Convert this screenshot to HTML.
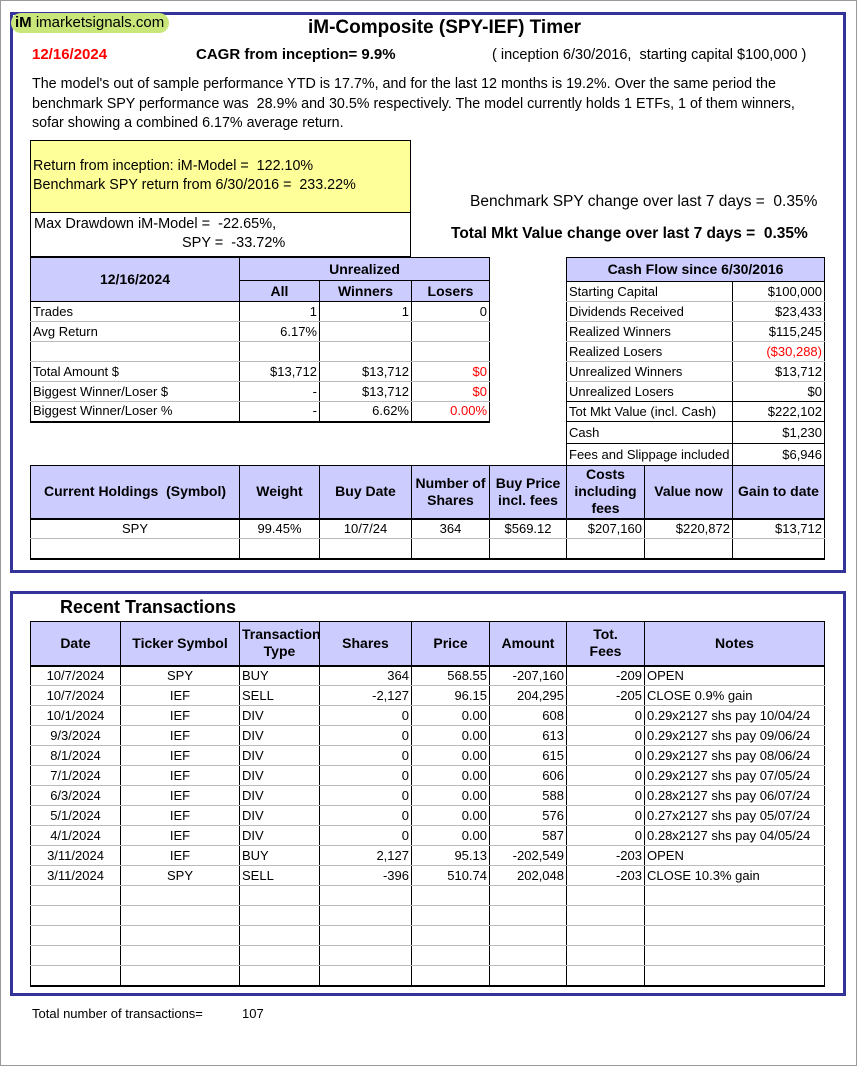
<!DOCTYPE html>
<html><head><meta charset="utf-8"><style>
*{margin:0;padding:0;box-sizing:border-box}
body{width:857px;height:1066px;background:#fff;position:relative;overflow:hidden;font-family:"Liberation Sans",Arial,sans-serif;color:#000}
.a{position:absolute;white-space:nowrap}
.n{font-family:"Liberation Sans Narrow","Arial Narrow","Liberation Sans",sans-serif}
.frame{position:absolute;border:3px solid #333399}
table{position:absolute;border-collapse:collapse;table-layout:fixed;font-family:"Liberation Sans Narrow","Arial Narrow","Liberation Sans",sans-serif;font-size:13px}
td{border:1px solid #000;border-top-color:#bbb;border-bottom-color:#bbb;padding:0 2px;overflow:hidden;white-space:nowrap;height:20px;line-height:18px}
td.h{background:#ccccff;font-weight:bold;text-align:center;font-size:14px;line-height:17px;white-space:normal;border-color:#000}
.r{text-align:right}.c{text-align:center}.red{color:#f00}
tr.bb td{border-bottom:2px solid #000}
tr.hb td{border-bottom:2px solid #000}
</style></head><body>
<div style="position:absolute;left:0;top:0;width:857px;height:1066px;border:1px solid #999"></div>
<div class="frame" style="left:10px;top:12px;width:836px;height:561px"></div>
<div class="frame" style="left:10px;top:591px;width:836px;height:405px"></div>
<div class="a" style="left:11px;top:13px;width:158px;height:20px;background:#c8e67a;border-radius:10px;font-size:15px;line-height:20px;padding-left:4px"><b>iM</b> imarketsignals.com</div>
<div class="a" style="left:308px;top:17px;font-size:19px;font-weight:bold">iM-Composite (SPY-IEF) Timer</div>
<div class="a" style="left:32px;top:46px;font-size:15px;font-weight:bold;color:#f00">12/16/2024</div>
<div class="a" style="left:196px;top:46px;font-size:15px;font-weight:bold">CAGR from inception= 9.9%</div>
<div class="a" style="left:492px;top:47px;font-size:14.5px">( inception 6/30/2016,&nbsp; starting capital $100,000 )</div>
<div class="a" style="left:32px;top:75px;font-size:14.3px;line-height:19.5px">The model's out of sample performance YTD is 17.7%, and for the last 12 months is 19.2%. Over the same period the<br>benchmark SPY performance was&nbsp; 28.9% and 30.5% respectively. The model currently holds 1 ETFs, 1 of them winners,<br>sofar showing a combined 6.17% average return.</div>
<div class="a" style="left:30px;top:140px;width:381px;height:73px;background:#ffff99;border:1px solid #000;font-size:14.3px;line-height:19px;padding:16px 0 0 2px">Return from inception: iM-Model =&nbsp; 122.10%<br>Benchmark SPY return from 6/30/2016 =&nbsp; 233.22%</div>
<div class="a" style="left:30px;top:212px;width:381px;height:45px;border:1px solid #000;font-size:14.5px;line-height:19px;padding:2px 0 0 3px">Max Drawdown iM-Model =&nbsp; -22.65%,<br><span style="padding-left:148px">SPY =&nbsp; -33.72%</span></div>
<div class="a" style="left:470px;top:193px;font-size:15.5px">Benchmark SPY change over last 7 days =&nbsp; 0.35%</div>
<div class="a" style="left:451px;top:225px;font-size:15.5px;font-weight:bold">Total Mkt Value change over last 7 days =&nbsp; 0.35%</div>

<table style="left:30px;top:257px;width:459px">
<col style="width:209px"><col style="width:80px"><col style="width:92px"><col style="width:78px">
<tr><td class="h" rowspan="2" style="height:44px">12/16/2024</td><td class="h" colspan="3" style="height:23px">Unrealized</td></tr>
<tr><td class="h" style="height:21px">All</td><td class="h">Winners</td><td class="h">Losers</td></tr>
<tr><td>Trades</td><td class="r">1</td><td class="r">1</td><td class="r">0</td></tr>
<tr><td>Avg Return</td><td class="r">6.17%</td><td></td><td></td></tr>
<tr><td></td><td></td><td></td><td></td></tr>
<tr><td>Total Amount $</td><td class="r">$13,712</td><td class="r">$13,712</td><td class="r red">$0</td></tr>
<tr><td>Biggest Winner/Loser $</td><td class="r">-</td><td class="r">$13,712</td><td class="r red">$0</td></tr>
<tr class="bb"><td>Biggest Winner/Loser %</td><td class="r">-</td><td class="r">6.62%</td><td class="r red">0.00%</td></tr>
</table>

<table style="left:566px;top:257px;width:258px">
<col style="width:166px"><col style="width:92px">
<tr><td class="h" colspan="2" style="height:24px">Cash Flow since 6/30/2016</td></tr>
<tr><td>Starting Capital</td><td class="r">$100,000</td></tr>
<tr><td>Dividends Received</td><td class="r">$23,433</td></tr>
<tr><td>Realized Winners</td><td class="r">$115,245</td></tr>
<tr><td>Realized Losers</td><td class="r red">($30,288)</td></tr>
<tr><td>Unrealized Winners</td><td class="r">$13,712</td></tr>
<tr><td style="border-bottom-color:#000">Unrealized Losers</td><td class="r" style="border-bottom-color:#000">$0</td></tr>
<tr><td style="border-bottom-color:#000">Tot Mkt Value (incl. Cash)</td><td class="r" style="border-bottom-color:#000">$222,102</td></tr>
<tr><td style="height:22px;border-bottom-color:#000">Cash</td><td class="r" style="border-bottom-color:#000">$1,230</td></tr>
<tr><td style="height:22px">Fees and Slippage included</td><td class="r">$6,946</td></tr>
</table>

<table style="left:30px;top:465px;width:794px">
<col style="width:209px"><col style="width:80px"><col style="width:92px"><col style="width:78px"><col style="width:77px"><col style="width:78px"><col style="width:88px"><col style="width:92px">
<tr class="hb"><td class="h" style="height:53px">Current Holdings&nbsp; (Symbol)</td><td class="h">Weight</td><td class="h">Buy Date</td><td class="h">Number of Shares</td><td class="h">Buy Price incl. fees</td><td class="h">Costs including fees</td><td class="h">Value now</td><td class="h">Gain to date</td></tr>
<tr><td class="c">SPY</td><td class="c">99.45%</td><td class="c">10/7/24</td><td class="c">364</td><td class="c">$569.12</td><td class="r">$207,160</td><td class="r">$220,872</td><td class="r">$13,712</td></tr>
<tr class="bb"><td></td><td></td><td></td><td></td><td></td><td></td><td></td><td></td></tr>
</table>

<div class="a n" style="left:60px;top:597px;font-size:18px;font-weight:bold">Recent Transactions</div>
<table style="left:30px;top:621px;width:794px">
<col style="width:90px"><col style="width:119px"><col style="width:80px"><col style="width:92px"><col style="width:78px"><col style="width:77px"><col style="width:78px"><col style="width:180px">
<tr class="hb"><td class="h" style="height:44px">Date</td><td class="h">Ticker Symbol</td><td class="h">Transaction Type</td><td class="h">Shares</td><td class="h">Price</td><td class="h">Amount</td><td class="h">Tot.<br>Fees</td><td class="h">Notes</td></tr>
<tr><td class="c">10/7/2024</td><td class="c">SPY</td><td>BUY</td><td class="r">364</td><td class="r">568.55</td><td class="r">-207,160</td><td class="r">-209</td><td>OPEN</td></tr>
<tr><td class="c">10/7/2024</td><td class="c">IEF</td><td>SELL</td><td class="r">-2,127</td><td class="r">96.15</td><td class="r">204,295</td><td class="r">-205</td><td>CLOSE 0.9% gain</td></tr>
<tr><td class="c">10/1/2024</td><td class="c">IEF</td><td>DIV</td><td class="r">0</td><td class="r">0.00</td><td class="r">608</td><td class="r">0</td><td>0.29x2127 shs pay 10/04/24</td></tr>
<tr><td class="c">9/3/2024</td><td class="c">IEF</td><td>DIV</td><td class="r">0</td><td class="r">0.00</td><td class="r">613</td><td class="r">0</td><td>0.29x2127 shs pay 09/06/24</td></tr>
<tr><td class="c">8/1/2024</td><td class="c">IEF</td><td>DIV</td><td class="r">0</td><td class="r">0.00</td><td class="r">615</td><td class="r">0</td><td>0.29x2127 shs pay 08/06/24</td></tr>
<tr><td class="c">7/1/2024</td><td class="c">IEF</td><td>DIV</td><td class="r">0</td><td class="r">0.00</td><td class="r">606</td><td class="r">0</td><td>0.29x2127 shs pay 07/05/24</td></tr>
<tr><td class="c">6/3/2024</td><td class="c">IEF</td><td>DIV</td><td class="r">0</td><td class="r">0.00</td><td class="r">588</td><td class="r">0</td><td>0.28x2127 shs pay 06/07/24</td></tr>
<tr><td class="c">5/1/2024</td><td class="c">IEF</td><td>DIV</td><td class="r">0</td><td class="r">0.00</td><td class="r">576</td><td class="r">0</td><td>0.27x2127 shs pay 05/07/24</td></tr>
<tr><td class="c">4/1/2024</td><td class="c">IEF</td><td>DIV</td><td class="r">0</td><td class="r">0.00</td><td class="r">587</td><td class="r">0</td><td>0.28x2127 shs pay 04/05/24</td></tr>
<tr><td class="c">3/11/2024</td><td class="c">IEF</td><td>BUY</td><td class="r">2,127</td><td class="r">95.13</td><td class="r">-202,549</td><td class="r">-203</td><td>OPEN</td></tr>
<tr><td class="c">3/11/2024</td><td class="c">SPY</td><td>SELL</td><td class="r">-396</td><td class="r">510.74</td><td class="r">202,048</td><td class="r">-203</td><td>CLOSE 10.3% gain</td></tr>
<tr><td></td><td></td><td></td><td></td><td></td><td></td><td></td><td></td></tr>
<tr><td></td><td></td><td></td><td></td><td></td><td></td><td></td><td></td></tr>
<tr><td></td><td></td><td></td><td></td><td></td><td></td><td></td><td></td></tr>
<tr><td></td><td></td><td></td><td></td><td></td><td></td><td></td><td></td></tr>
<tr class="bb"><td></td><td></td><td></td><td></td><td></td><td></td><td></td><td></td></tr>
</table>
<div class="a n" style="left:32px;top:1006px;font-size:13px">Total number of transactions=</div>
<div class="a n" style="left:242px;top:1006px;font-size:13px">107</div>
</body></html>
